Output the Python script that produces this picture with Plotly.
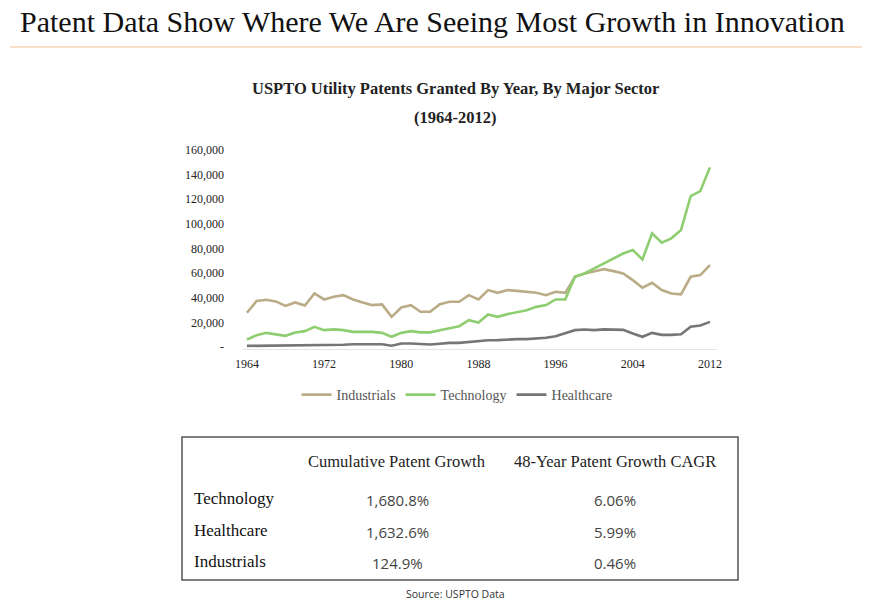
import plotly.graph_objects as go

years = list(range(1964, 2013))

industrials = [27900, 37500, 38500, 37100, 33500, 36300, 33800, 43600, 38700, 40900,
               42200, 38700, 36300, 34100, 34700, 24600, 32200, 34100, 28700, 28700,
               34900, 36800, 36800, 42200, 38700, 46300, 44100, 46300, 45700, 44700,
               44100, 42200, 44900, 44100, 57100, 59800, 61700, 63300, 61700, 59800,
               54400, 48200, 52200, 46300, 43600, 42800, 57100, 58500, 66600]

technology = [6200, 9700, 11600, 10300, 9200, 11900, 13000, 16500, 13800, 14400,
              13800, 12400, 12400, 12400, 11600, 8400, 11600, 13000, 12000, 12000,
              13800, 15700, 17000, 21900, 20000, 26500, 24600, 26800, 28200, 30000,
              32700, 34100, 38700, 38700, 57100, 59800, 63900, 68000, 72000, 76000,
              78800, 71200, 92300, 84700, 88300, 95000, 122600, 126700, 145900]

healthcare = [1000, 1100, 1300, 1300, 1000, 1300, 1500, 1800, 1800, 2000,
              2000, 2300, 2400, 2300, 2300, 1200, 3000, 3000, 2300, 2200,
              2800, 3500, 3500, 4300, 4700, 5600, 5700, 6200, 6500, 6500,
              6800, 7600, 8900, 11100, 13800, 14300, 13800, 14400, 14000, 14000,
              11100, 8400, 11600, 10000, 10000, 10400, 16500, 17600, 20500]

x_tick_years = [1964, 1972, 1980, 1988, 1996, 2004, 2012]
y_tick_vals = [0, 20000, 40000, 60000, 80000, 100000, 120000, 140000, 160000]
y_tick_text = ["-", "20,000", "40,000", "60,000", "80,000", "100,000", "120,000", "140,000", "160,000"]

table_cols = ["Cumulative Patent Growth", "48-Year Patent Growth CAGR"]
table_rows = ["Technology", "Healthcare", "Industrials"]
table_cumulative = ["1,680.8%", "1,632.6%", "124.9%"]
table_cagr = ["6.06%", "5.99%", "0.46%"]

SERIF = "Liberation Serif, Times New Roman, serif"
SANS = "Open Sans, Noto Sans, sans-serif"

W, H = 872, 612
# target plot-area edges in screen pixels
PL, PR, PT, PB = 243, 717, 150, 349
ml, mr, mt, mb = PL, W - PR, PT, H - PB

fig = go.Figure()
series = [("Industrials", industrials, "rgb(185,172,134)"),
          ("Technology", technology, "rgb(143,206,112)"),
          ("Healthcare", healthcare, "rgb(118,118,118)")]
for name, vals, col in series:
    fig.add_trace(go.Scatter(x=years, y=vals, name=name, mode="lines",
                             line=dict(color=col, width=2.6)))


def px2paper(x, y):
    return (x - PL) / (PR - PL), (PB - y) / (PB - PT)


lgx, lgy = px2paper(457, 379)
fig.update_layout(
    width=W, height=H,
    paper_bgcolor="white", plot_bgcolor="white",
    margin=dict(l=ml, r=mr, t=mt, b=mb),
    showlegend=True,
    legend=dict(orientation="h", x=lgx, xanchor="center", y=lgy, yanchor="top",
                font=dict(family=SERIF, size=14, color="#555555"),
                itemwidth=30, tracegroupgap=0),
    xaxis=dict(range=[1963.59, 2012.73], tickvals=x_tick_years,
               ticktext=[str(v) for v in x_tick_years],
               showgrid=False, zeroline=False, showline=True, linecolor="#e4e4e4",
               linewidth=1, ticks="", ticklabelstandoff=4,
               tickfont=dict(family=SERIF, size=12, color="#222222")),
    yaxis=dict(range=[-1500, 160000], tickvals=y_tick_vals, ticktext=y_tick_text,
               showgrid=False, zeroline=False, showline=False, ticks="",
               ticklabelstandoff=18,
               tickfont=dict(family=SERIF, size=12, color="#222222")),
)

ann = []
ann.append(dict(text="Patent Data Show Where We Are Seeing Most Growth in Innovation",
                x=18, y=21, font=dict(family=SERIF, size=30, color="#111111"),
                xanchor="left", yanchor="middle"))
ann.append(dict(text="<b>USPTO Utility Patents Granted By Year, By Major Sector</b>",
                x=455, y=89, font=dict(family=SERIF, size=16.5, color="#222222"),
                xanchor="center", yanchor="middle"))
ann.append(dict(text="<b>(1964-2012)</b>", x=455, y=117,
                font=dict(family=SERIF, size=16.5, color="#222222"),
                xanchor="center", yanchor="middle"))
col_x = [397, 615]
for cx, t in zip(col_x, table_cols):
    ann.append(dict(text=t, x=cx, y=461,
                    font=dict(family=SERIF, size=16.5, color="#222222"),
                    xanchor="center", yanchor="middle"))
row_y = [498, 530, 561]
for ry, lab, c1, c2 in zip(row_y, table_rows, table_cumulative, table_cagr):
    ann.append(dict(text=lab, x=192, y=ry,
                    font=dict(family=SERIF, size=17, color="#111111"),
                    xanchor="left", yanchor="middle"))
    ann.append(dict(text=c1, x=397, y=ry + 2,
                    font=dict(family=SANS, size=15, color="#444444"),
                    xanchor="center", yanchor="middle"))
    ann.append(dict(text=c2, x=615, y=ry + 2,
                    font=dict(family=SANS, size=15, color="#444444"),
                    xanchor="center", yanchor="middle"))
ann.append(dict(text="Source: USPTO Data", x=455, y=594,
                font=dict(family=SANS, size=10.5, color="#333333"),
                xanchor="center", yanchor="middle"))

for a in ann:
    a["x"], a["y"] = px2paper(a["x"], a["y"])
    a["xref"] = "paper"
    a["yref"] = "paper"
    a["showarrow"] = False
fig.update_layout(annotations=ann)

x0, y0 = px2paper(10, 47)
x1, _ = px2paper(862, 47)
fig.add_shape(type="line", xref="paper", yref="paper", x0=x0, x1=x1, y0=y0, y1=y0,
              line=dict(color="rgb(247,214,180)", width=1.5))
bx0, by0 = px2paper(182, 437)
bx1, by1 = px2paper(738, 580)
fig.add_shape(type="rect", xref="paper", yref="paper", x0=bx0, x1=bx1, y0=by1, y1=by0,
              line=dict(color="#555555", width=1.5), fillcolor="rgba(0,0,0,0)")

fig.write_html("out.html", config={"displayModeBar": False},
               post_script="document.body.style.margin='0';")
